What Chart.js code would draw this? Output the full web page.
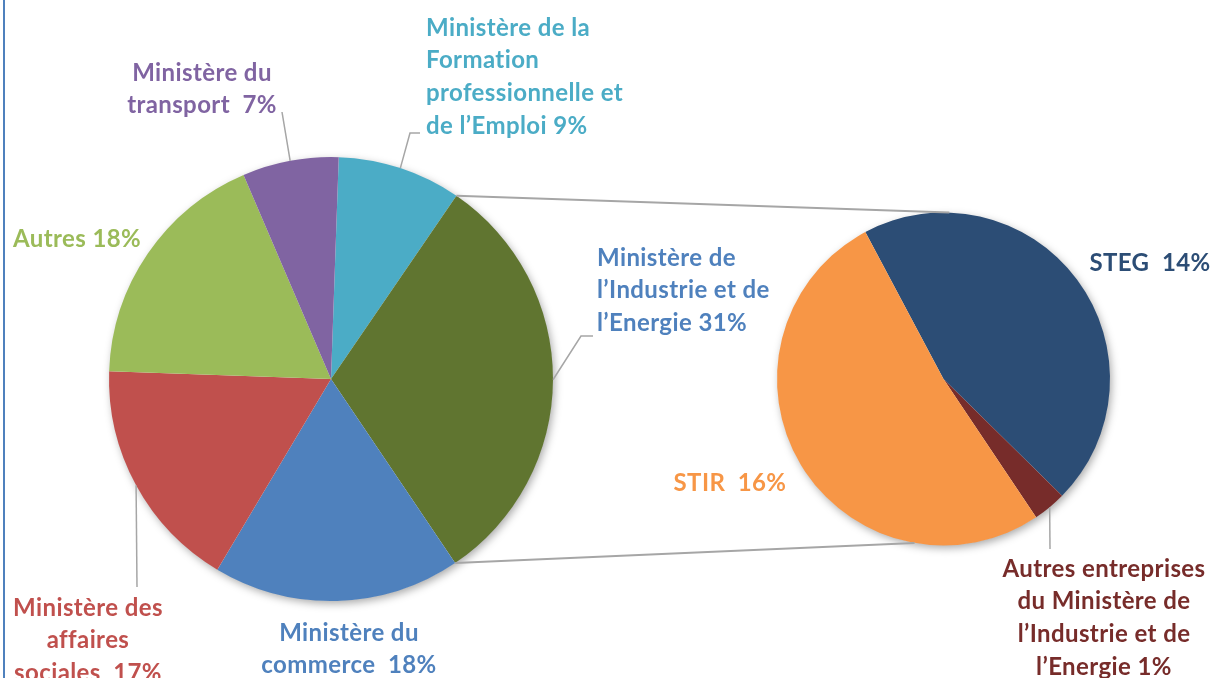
<!DOCTYPE html>
<html><head><meta charset="utf-8">
<script src="https://cdn.jsdelivr.net/npm/chart.js@4.4.1/dist/chart.umd.min.js"></script>
<style>
html,body{margin:0;padding:0;background:#fff;}
#wrap{position:relative;width:1211px;height:678px;overflow:hidden;background:#fff;}
#wrap canvas{position:absolute;left:0;top:0;}
#frame{position:absolute;left:3px;top:0;width:2px;height:678px;background:#4F81BD;}
</style></head><body>
<div id="wrap"><div id="frame"></div><canvas id="main" width="1211" height="678"></canvas><canvas id="sec" width="1211" height="678"></canvas></div>
<script>
// ---- data ----
const mainCategories = ["Ministère de la Formation professionnelle et de l’Emploi", "Ministère de l’Industrie et de l’Energie", "Ministère du commerce", "Ministère des affaires sociales", "Autres", "Ministère du transport"];
const mainValues = [9, 31, 18, 17, 18, 7];
const secCategories = ["STEG", "Autres entreprises du Ministère de l’Industrie et de l’Energie", "STIR"];
const secValues = [14, 1, 16];
// label line breaks (the percentage is appended to the last line)
const mainLabelLines = [["Ministère de la", "Formation", "professionnelle et", "de l’Emploi "], ["Ministère de", "l’Industrie et de", "l’Energie "], ["Ministère du", "commerce  "], ["Ministère des", "affaires", "sociales  "], ["Autres "], ["Ministère du", "transport  "]];
const secLabelLines = [["STEG  "], ["Autres entreprises", "du Ministère de", "l’Industrie et de", "l’Energie "], ["STIR  "]];

// ---- styles / layout ----
const mainColors = ["#4BACC6", "#607530", "#4F81BD", "#C0504D", "#9BBB59", "#8064A2"];
const mainTextColors = ["#4BACC6", "#4F81BD", "#4F81BD", "#C0504D", "#9BBB59", "#8064A2"];
const secColors = ["#2C4D75", "#772C2A", "#F79646"];
const secTextColors = ["#2C4D75", "#772C2A", "#F79646"];
const mainLabelPos = [
  {align: "left", x: 426, y: 28, leader: [[410,133],[420,133]]},
  {align: "left", x: 597, y: 258, leader: [[581,336],[593,336]]},
  {align: "center", x: 349, y: 633, leader: null},
  {align: "center", x: 88, y: 608, leader: [[137,587]]},
  {align: "left", x: 13, y: 239, leader: null},
  {align: "center", x: 202, y: 73, leader: [[282,112]]}
];
const secLabelPos = [
  {align: "center", x: 1150, y: 263, leader: null},
  {align: "center", x: 1104, y: 569, leader: [[1050,549]]},
  {align: "center", x: 730, y: 483, leader: null}
];
const FONT = "bold 24px Lato";
const LETTER_SPACING = "0.4px";
const LINE_H = 32.7;

const shadowPlugin = {
  id: "pieShadow",
  beforeDatasetsDraw(chart) {
    const a = chart.getDatasetMeta(0).data[0];
    const ctx = chart.ctx;
    ctx.save();
    ctx.shadowColor = "rgba(0,0,0,0.35)";
    ctx.shadowBlur = 9;
    ctx.shadowOffsetX = 2;
    ctx.shadowOffsetY = 3;
    ctx.fillStyle = "#fff";
    ctx.beginPath();
    ctx.arc(a.x, a.y, a.outerRadius - 0.5, 0, Math.PI * 2);
    ctx.fill();
    ctx.restore();
  }
};

const baseOpts = (pad, rotation) => ({
  responsive: false,
  animation: false,
  events: [],
  rotation: rotation,
  layout: {padding: pad},
  plugins: {legend: {display: false}, tooltip: {enabled: false}}
});

const mainChart = new Chart(document.getElementById("main"), {
  type: "pie",
  data: {labels: mainCategories, datasets: [{data: mainValues, backgroundColor: mainColors, borderWidth: 0}]},
  options: baseOpts({left: 109, right: 658, top: 157, bottom: 77}, 2),
  plugins: [shadowPlugin]
});

function midPoint(el) {
  const m = (el.startAngle + el.endAngle) / 2;
  return [el.x + el.outerRadius * Math.cos(m), el.y + el.outerRadius * Math.sin(m)];
}
function drawLabels(ctx, meta, values, lines, pos, colors) {
  meta.data.forEach((el, i) => {
    const p = pos[i];
    if (p.leader) {
      ctx.save();
      ctx.strokeStyle = "#A6A6A6";
      ctx.lineWidth = 1.5;
      ctx.beginPath();
      const s = midPoint(el);
      ctx.moveTo(s[0], s[1]);
      p.leader.forEach(q => ctx.lineTo(q[0], q[1]));
      ctx.stroke();
      ctx.restore();
    }
    ctx.save();
    ctx.font = FONT;
    if ("letterSpacing" in ctx) ctx.letterSpacing = LETTER_SPACING;
    ctx.fillStyle = colors[i];
    ctx.textAlign = p.align;
    ctx.textBaseline = "middle";
    const ls = lines[i].slice();
    ls[ls.length - 1] = ls[ls.length - 1] + values[i] + "%";
    ls.forEach((t, k) => ctx.fillText(t, p.x, p.y + k * LINE_H));
    ctx.restore();
  });
}

const overlayPlugin = {
  id: "overlay",
  afterDraw(chart) {
    const ctx = chart.ctx;
    const mMeta = mainChart.getDatasetMeta(0);
    const sMeta = chart.getDatasetMeta(0);
    // connector lines between the composite slice and the secondary pie
    const ind = mMeta.data[1];
    const s0 = sMeta.data[0];
    const cx = s0.x, cy = s0.y, r = s0.outerRadius;
    const topA = -Math.PI / 2 + 2 * Math.PI / 180;
    const botA = -Math.PI / 2 + 190 * Math.PI / 180;
    ctx.save();
    ctx.strokeStyle = "#A6A6A6";
    ctx.lineWidth = 2;
    ctx.beginPath();
    ctx.moveTo(ind.x + ind.outerRadius * Math.cos(ind.startAngle), ind.y + ind.outerRadius * Math.sin(ind.startAngle));
    ctx.lineTo(cx + r * Math.cos(topA), cy + r * Math.sin(topA));
    ctx.moveTo(ind.x + ind.outerRadius * Math.cos(ind.endAngle), ind.y + ind.outerRadius * Math.sin(ind.endAngle));
    ctx.lineTo(cx + r * Math.cos(botA), cy + r * Math.sin(botA));
    ctx.stroke();
    ctx.restore();
    drawLabels(ctx, mMeta, mainValues, mainLabelLines, mainLabelPos, mainTextColors);
    drawLabels(ctx, sMeta, secValues, secLabelLines, secLabelPos, secTextColors);
  }
};

const secChart = new Chart(document.getElementById("sec"), {
  type: "pie",
  data: {labels: secCategories, datasets: [{data: secValues, backgroundColor: secColors, borderWidth: 0}]},
  options: baseOpts({left: 777, right: 101, top: 212, bottom: 132}, -28),
  plugins: [shadowPlugin, overlayPlugin]
});
</script>
</body></html>
